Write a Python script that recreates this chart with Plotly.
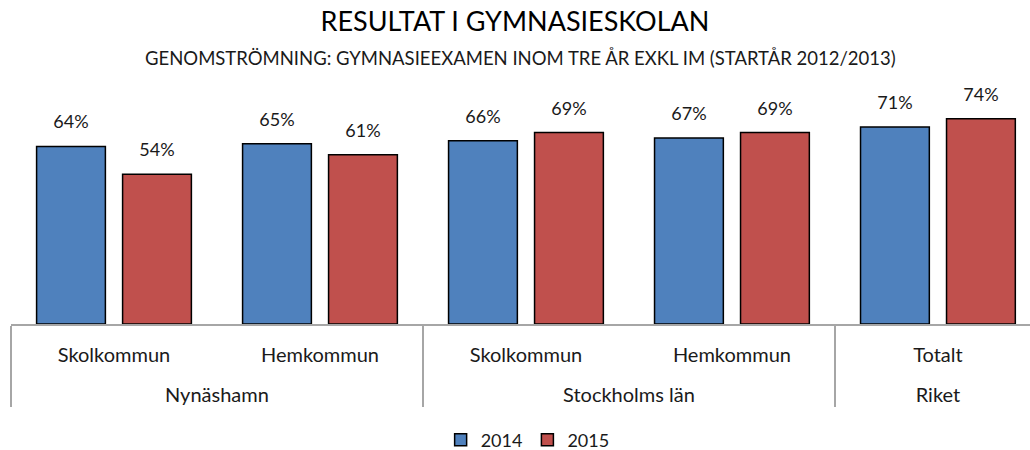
import plotly.graph_objects as go

groups = ["Nynäshamn", "Nynäshamn", "Stockholms län", "Stockholms län", "Riket"]
categories = ["Skolkommun", "Hemkommun", "Skolkommun", "Hemkommun", "Totalt"]
values_2014 = [0.64, 0.65, 0.66, 0.67, 0.71]
values_2015 = [0.54, 0.61, 0.69, 0.69, 0.74]
series_names = ["2014", "2015"]
colors = ["#4F81BD", "#C0504D"]

FONT = "Lato"
GAP = 0.165

# first-row labels get a blank second line so the group row sits lower
x_cats = [groups, [c + "<br> " for c in categories]]

fig = go.Figure()
for name, vals, col in zip(series_names, [values_2014, values_2015], colors):
    fig.add_trace(go.Bar(
        name=name,
        x=x_cats,
        y=vals,
        offsetgroup=name,
        marker=dict(color=col, line=dict(color="black", width=1.5)),
        hoverinfo="skip",
    ))
for name, vals in zip(series_names, [values_2014, values_2015]):
    fig.add_trace(go.Scatter(
        x=x_cats, y=vals, offsetgroup=name,
        mode="markers+text",
        marker=dict(size=20, opacity=0),
        text=[f"{round(v * 100)}%" for v in vals],
        textposition="top center",
        textfont=dict(family=FONT, size=18, color="#1a1a1a"),
        cliponaxis=False, showlegend=False, hoverinfo="skip",
    ))

fig.update_layout(
    width=1030, height=450,
    margin=dict(l=11, r=0, t=102, b=126),
    paper_bgcolor="white", plot_bgcolor="white",
    barmode="group", bargap=GAP, bargroupgap=0.2,
    scattermode="group", scattergap=GAP,
    font=dict(family=FONT, size=16, color="#1a1a1a"),
    title=dict(text="RESULTAT I GYMNASIESKOLAN", x=0.5, xanchor="center",
               y=1 - 22 / 450, yanchor="middle",
               font=dict(family=FONT, size=27, color="#000000")),
    showlegend=True,
    legend=dict(orientation="h", x=0.507, xanchor="center",
                yref="container", y=1 - 440 / 450, yanchor="middle",
                font=dict(family=FONT, size=18), traceorder="normal"),
    annotations=[dict(
        text="GENOMSTRÖMNING: GYMNASIEEXAMEN INOM TRE ÅR EXKL IM (STARTÅR 2012/2013)",
        xref="paper", yref="paper", x=0.5, y=(324 - 58) / 222,
        xanchor="center", yanchor="middle", showarrow=False,
        font=dict(family=FONT, size=18.5, color="#1a1a1a"))],
)
fig.update_xaxes(
    type="multicategory", range=[-0.5, 4.447], automargin=False,
    showline=True, linecolor="#a6a6a6", linewidth=1.5,
    showdividers=True, dividercolor="#a6a6a6", dividerwidth=1.5,
    ticks="", ticklabelstandoff=12,
    tickfont=dict(family=FONT, size=20, color="#1a1a1a"),
    showgrid=False,
)
fig.update_yaxes(range=[0, 0.8], visible=False, showgrid=False, automargin=False)

fig.write_html("out.html", config={"displayModeBar": False},
               post_script="document.body.style.margin='0';")
